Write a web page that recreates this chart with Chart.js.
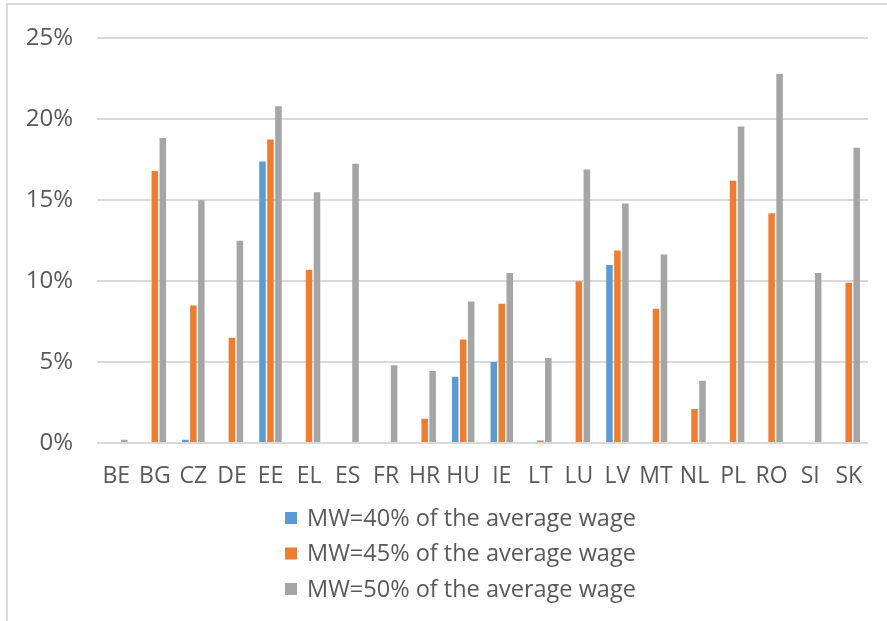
<!DOCTYPE html>
<html>
<head>
<meta charset="utf-8">
<script src="https://cdn.jsdelivr.net/npm/chart.js@4.4.0/dist/chart.umd.min.js"></script>
<style>
  html, body { margin: 0; padding: 0; background: #ffffff; overflow: hidden; }
  #wrap { position: relative; width: 887px; height: 621px; }
  #frame { position: absolute; left: 6px; top: 3px; width: 1000px; height: 1000px;
           border-left: 2px solid #dadada; border-top: 2px solid #dadada; pointer-events: none; }
</style>
</head>
<body>
<div id="wrap">
  <canvas id="c" width="887" height="621"></canvas>
  <div id="frame"></div>
</div>
<script>
const categories = ["BE","BG","CZ","DE","EE","EL","ES","FR","HR","HU","IE","LT","LU","LV","MT","NL","PL","RO","SI","SK"];
const seriesNames = ["MW=40% of the average wage","MW=45% of the average wage","MW=50% of the average wage"];
const mw40 = [0, 0, 0.2, 0, 17.4, 0, 0, 0, 0, 4.1, 5.0, 0, 0, 11.0, 0, 0, 0, 0, 0, 0];
const mw45 = [0, 16.8, 8.5, 6.5, 18.75, 10.7, 0, 0, 1.5, 6.4, 8.6, 0.15, 10.0, 11.9, 8.3, 2.1, 16.2, 14.2, 0, 9.9];
const mw50 = [0.2, 18.85, 15.0, 12.5, 20.8, 15.5, 17.25, 4.8, 4.45, 8.75, 10.5, 5.25, 16.9, 14.8, 11.65, 3.85, 19.55, 22.8, 10.5, 18.25];
const yTicks = [0, 5, 10, 15, 20, 25];
const colors = ["#5B9BD5", "#ED7D31", "#A5A5A5"];

const FONT = "'Open Sans', Lato, 'Liberation Sans', sans-serif";
const TEXT = "#595959";

const stackedLegend = {
  id: 'stackedLegend',
  afterDraw(chart) {
    const ctx = chart.ctx;
    ctx.save();
    ctx.font = "23.5px " + FONT;
    ctx.textBaseline = "middle";
    ctx.textAlign = "left";
    const x0 = 285, y0 = 518, dy = 35.5, box = 12;
    chart.data.datasets.forEach((ds, i) => {
      const y = y0 + i * dy;
      ctx.fillStyle = ds.backgroundColor;
      ctx.fillRect(x0, y - box / 2, box, box);
      ctx.fillStyle = TEXT;
      ctx.fillText(ds.label, x0 + box + 10, y + 1);
    });
    ctx.restore();
  }
};

new Chart(document.getElementById('c'), {
  type: 'bar',
  data: {
    labels: categories,
    datasets: [
      { label: seriesNames[0], data: mw40, backgroundColor: colors[0] },
      { label: seriesNames[1], data: mw45, backgroundColor: colors[1] },
      { label: seriesNames[2], data: mw50, backgroundColor: colors[2] }
    ]
  },
  options: {
    responsive: false,
    animation: false,
    devicePixelRatio: 1,
    layout: { padding: { left: 0, right: 19, top: 37, bottom: 128 } },
    datasets: { bar: { categoryPercentage: 0.62, barPercentage: 0.82, borderWidth: 0 } },
    plugins: {
      legend: { display: false },
      tooltip: { enabled: false }
    },
    scales: {
      x: {
        grid: { display: false, drawTicks: false },
        border: { display: false },
        ticks: { color: TEXT, font: { family: FONT, size: 23 }, padding: 20, maxRotation: 0, autoSkip: false },
        afterFit(scale) { scale.height = 50; }
      },
      y: {
        min: 0, max: 25,
        afterBuildTicks(scale) { scale.ticks = yTicks.map(v => ({ value: v })); },
        grid: { color: "#d9d9d9", lineWidth: 2, drawTicks: false },
        border: { display: false },
        ticks: { color: TEXT, font: { family: FONT, size: 24 }, padding: 24, callback: v => v + "%" },
        afterFit(scale) { scale.width = 97; }
      }
    }
  },
  plugins: [stackedLegend]
});
</script>
</body>
</html>
